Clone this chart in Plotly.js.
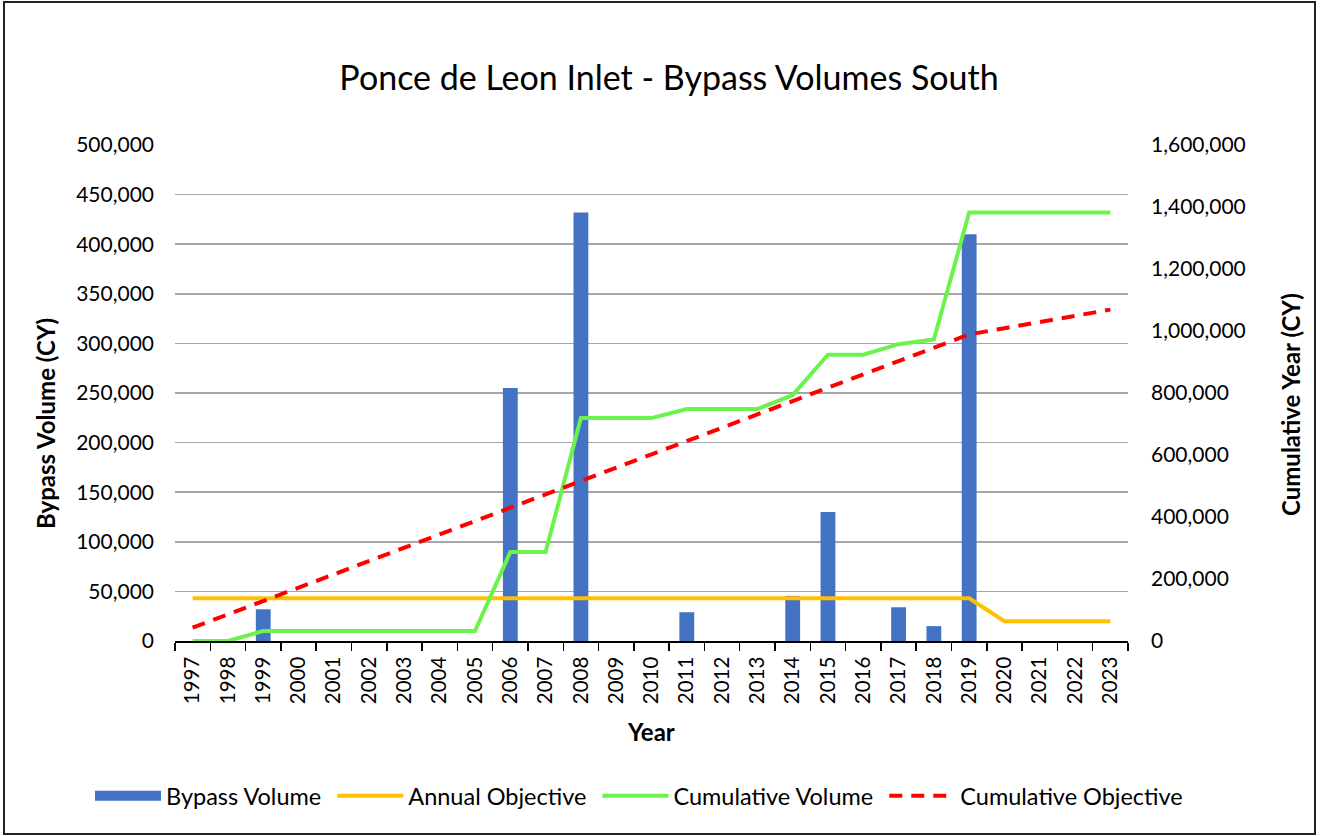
<!DOCTYPE html>
<html>
<head>
<meta charset="utf-8">
<script src="https://cdn.plot.ly/plotly-3.0.1.min.js"></script>
<style>html,body{margin:0;padding:0;background:#fff;}#chart{width:1320px;height:836px;}</style>
</head>
<body>
<div id="chart"></div>
<script>
const years = ['1997','1998','1999','2000','2001','2002','2003','2004','2005','2006','2007','2008','2009','2010','2011','2012','2013','2014','2015','2016','2017','2018','2019','2020','2021','2022','2023'];
const bypassVolume = [null,null,32000,null,null,null,null,null,null,255000,null,432000,null,null,29000,null,null,45500,130000,null,34000,15000,410000,null,null,null,null];
const annualObjective = [43000,43000,43000,43000,43000,43000,43000,43000,43000,43000,43000,43000,43000,43000,43000,43000,43000,43000,43000,43000,43000,43000,43000,20000,20000,20000,20000];
const cumulativeVolume = [0,0,32000,32000,32000,32000,32000,32000,32000,287000,287000,719000,719000,719000,748000,748000,748000,793500,923500,923500,957500,972500,1382500,1382500,1382500,1382500,1382500];
const cumulativeObjective = [43000,86000,129000,172000,215000,258000,301000,344000,387000,430000,473000,516000,559000,602000,645000,688000,731000,774000,817000,860000,903000,946000,989000,1009000,1029000,1049000,1069000];
const seriesNames = ['Bypass Volume', 'Annual Objective', 'Cumulative Volume', 'Cumulative Objective'];

const FONT = 'Lato, "Open Sans", sans-serif';
const L = 175, R = 1128, T = 145, B = 641, W = 1320, H = 836;
const pw = R - L, ph = B - T;
const px = x => (x - L) / pw;
const py = y => (B - y) / ph;
const noData = years.map(() => null);
const pad = '\u00A0';

const traces = [
  {type:'bar', x:years, y:bypassVolume, name:seriesNames[0], marker:{color:'#4472C4'}, yaxis:'y', showlegend:false, legendgroup:'bv'},
  {type:'scatter', mode:'lines', x:years, y:noData, name:seriesNames[0] + pad, line:{color:'#4472C4', width:17}, yaxis:'y', legendgroup:'bv', hoverinfo:'skip'},
  {type:'scatter', mode:'lines', x:years, y:annualObjective, name:seriesNames[1] + pad, line:{color:'#FFC000', width:4}, yaxis:'y'},
  {type:'scatter', mode:'lines', x:years, y:cumulativeVolume, name:seriesNames[2] + pad, line:{color:'#6CF24C', width:4}, yaxis:'y2'},
  {type:'scatter', mode:'lines', x:years, y:cumulativeObjective, name:seriesNames[3], line:{color:'#FF0000', width:4, dash:'13px,9px'}, yaxis:'y2'}
];

const layout = {
  width: W, height: H,
  margin: {l: L, r: W - R, t: T, b: H - B, pad: 0},
  paper_bgcolor: '#fff', plot_bgcolor: '#fff',
  font: {family: FONT, color: '#000', size: 21},
  showlegend: true,
  bargap: 0.58,
  title: {text: 'Ponce de Leon Inlet - Bypass Volumes South', font: {family: FONT, size: 34, color: '#000'}, x: 669 / W, xanchor: 'center', y: 1 - 78 / H, yanchor: 'middle', xref: 'container', yref: 'container'},
  xaxis: {
    type: 'category', range: [-0.5, 26.5], tickangle: -90,
    ticks: 'outside', tickson: 'boundaries', ticklen: 8, tickwidth: 1.5, tickcolor: '#000',
    showline: true, linecolor: '#000', linewidth: 1.5, showgrid: false, zeroline: false,
    tickfont: {family: FONT, size: 20.5, color: '#000'}, ticklabelstandoff: 6, fixedrange: true
  },
  yaxis: {
    range: [0, 500000], dtick: 50000, tickformat: ',d', showgrid: true, gridcolor: '#a6a6a6', gridwidth: 1.5,
    zeroline: false, showline: false, ticks: '', tickfont: {family: FONT, size: 21, color: '#000'}, ticklabelstandoff: 20
  },
  yaxis2: {
    overlaying: 'y', side: 'right', range: [0, 1600000], dtick: 200000, tickformat: ',d', showgrid: false,
    zeroline: false, showline: false, ticks: '', tickfont: {family: FONT, size: 21, color: '#000'}, ticklabelstandoff: 22
  },
  legend: {orientation: 'h', xref: 'paper', yref: 'paper', x: px(90), xanchor: 'left', y: py(796), yanchor: 'middle', bgcolor: 'rgba(0,0,0,0)', font: {family: FONT, size: 23.5, color: '#000'}, itemwidth: 66, tracegroupgap: 0, traceorder: 'normal'},
  annotations: [
    {text: '<b>Bypass Volume (CY)</b>', xref: 'paper', yref: 'paper', x: px(45), y: py(424), textangle: -90, showarrow: false, font: {family: FONT, size: 24, color: '#000'}, xanchor: 'center', yanchor: 'middle'},
    {text: '<b>Cumulative Year (CY)</b>', xref: 'paper', yref: 'paper', x: px(1290), y: py(405), textangle: -90, showarrow: false, font: {family: FONT, size: 24, color: '#000'}, xanchor: 'center', yanchor: 'middle'},
    {text: '<b>Year</b>', xref: 'paper', yref: 'paper', x: px(651), y: py(731), showarrow: false, font: {family: FONT, size: 24, color: '#000'}, xanchor: 'center', yanchor: 'middle'}
  ],
  shapes: [
    {type: 'rect', xref: 'paper', yref: 'paper', x0: px(4), x1: px(1315), y0: py(834), y1: py(2), line: {color: '#222', width: 2}, fillcolor: 'rgba(0,0,0,0)', layer: 'above'}
  ]
};

Plotly.newPlot('chart', traces, layout, {displayModeBar: false, staticPlot: true});
</script>
</body>
</html>
